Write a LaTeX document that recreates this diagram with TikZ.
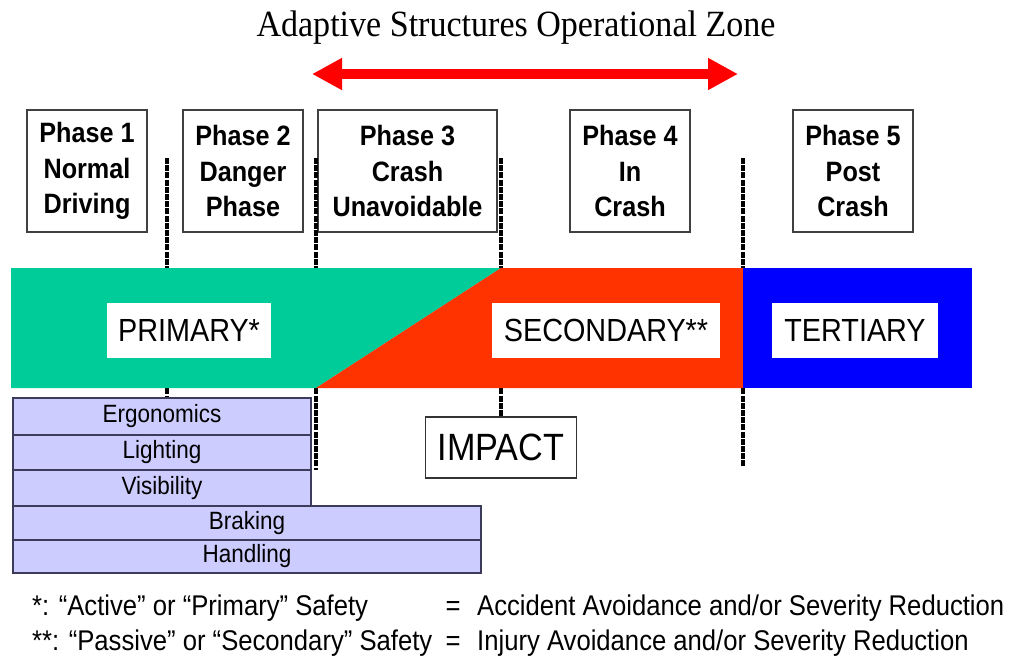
\documentclass[tikz,border=0pt]{standalone}
\usepackage{fontspec}
\setmainfont{Liberation Serif}
\newfontfamily\sfn[FakeStretch=0.9]{Liberation Sans}
\newfontfamily\titlefont[FakeStretch=0.92]{Liberation Serif}
\usetikzlibrary{arrows.meta}
\definecolor{primc}{HTML}{00CC99}
\definecolor{secc}{HTML}{FF3300}
\definecolor{terc}{HTML}{0000FF}
\definecolor{lavc}{HTML}{CCCCFF}
\definecolor{lavline}{HTML}{3C3C5A}
\definecolor{arrc}{HTML}{FF0000}
\begin{document}
\begin{tikzpicture}[x=1pt,y=-1pt,
  phasebox/.style={draw=black!75, line width=1.2pt, fill=white, minimum height=122pt,
    inner sep=0pt, align=center, font=\sfn\bfseries\fontsize{28}{35.5}\selectfont},
  zonelabel/.style={fill=white, inner sep=0pt, minimum height=55pt,
    font=\sfn\fontsize{32}{36}\selectfont},
  itembox/.style={draw=lavline, line width=1.2pt, fill=lavc, inner sep=0pt,
    font=\sfn\fontsize{25}{28}\selectfont},
  phaseline/.style={draw=black, line width=3.2pt, dash pattern=on 6pt off 1.2pt},
  note/.style={inner sep=0pt, anchor=base west, font=\sfn\fontsize{28.5}{32}\selectfont},
  zonearrow/.style={draw=arrc, line width=10pt,
    {Triangle[length=30pt,width=30pt]}-{Triangle[length=30pt,width=30pt]}}
]
\useasboundingbox (0,0) rectangle (1009,657);

% title and arrow
\node[inner sep=0pt, font=\titlefont\fontsize{37}{40}\selectfont] (title) at (516,28) {Adaptive Structures Operational Zone};
\coordinate (arrL) at (312,74);
\coordinate (arrR) at (738,74);
\draw[zonearrow] (arrL) -- (arrR);

% phase boxes
\node[phasebox, minimum width=120pt] (p1) at (87,171) {Phase 1\\Normal\\Driving};
\node[phasebox, minimum width=120pt] (p2) at (243,171) {Phase 2\\Danger\\Phase};
\node[phasebox, minimum width=179pt] (p3) at (407.5,171) {Phase 3\\Crash\\Unavoidable};
\node[phasebox, minimum width=120pt] (p4) at (630,171) {Phase 4\\In\\Crash};
\node[phasebox, minimum width=120pt] (p5) at (853,171) {Phase 5\\Post\\Crash};

% lower boxes
\node[itembox, minimum width=298pt, minimum height=37pt] (ergo) at (162,416.5) {Ergonomics};
\node[itembox, minimum width=298pt, minimum height=35pt] (light) at (162,452.5) {Lighting};
\node[itembox, minimum width=298pt, minimum height=36pt] (vis) at (162,488) {Visibility};
\node[itembox, minimum width=468pt, minimum height=34pt] (brake) at (247,523) {Braking};
\node[itembox, minimum width=468pt, minimum height=33pt] (handl) at (247,556.5) {Handling};

\node[draw=black!80, line width=1.3pt, fill=white, inner sep=0pt, minimum width=151pt,
  minimum height=61pt, font=\sfn\fontsize{38}{40}\selectfont] (impact) at (501,447.5) {IMPACT};

% phase boundaries
\coordinate (d1t) at (167,158); \coordinate (d1b) at (167,397);
\coordinate (d2t) at (316,158); \coordinate (d2b) at (316,470);
\coordinate (d3t) at (501,158);
\coordinate (d4t) at (743,158); \coordinate (d4b) at (743,467);
\draw[phaseline] (d1t) -- (d1b);
\draw[phaseline] (d2t) -- (d2b);
\draw[phaseline] (d3t) -- (impact.north);
\draw[phaseline] (d4t) -- (d4b);

% safety bar
\fill[primc] (11,268) -- (501,268) -- (316,388) -- (11,388) -- cycle;
\fill[secc] (501,268) -- (743,268) -- (743,388) -- (316,388) -- cycle;
\fill[terc] (743,268) rectangle (972,388);

\node[zonelabel, minimum width=164pt] (prim) at (189,330) {PRIMARY*};
\node[zonelabel, minimum width=228pt] (sec) at (606,330.5) {SECONDARY**};
\node[zonelabel, minimum width=166pt] (ter) at (855,330.5) {TERTIARY};

% footnotes
\node[note] (n1) at (32,615) {*: “Active” or “Primary” Safety};
\node[note, anchor=base] (eq1) at (453,615) {=};
\node[note] (d1) at (477,615) {Accident Avoidance and/or Severity Reduction};
\node[note] (n2) at (32,650) {**: “Passive” or “Secondary” Safety};
\node[note, anchor=base] (eq2) at (453,650) {=};
\node[note] (d2) at (477,650) {Injury Avoidance and/or Severity Reduction};
\end{tikzpicture}
\end{document}
